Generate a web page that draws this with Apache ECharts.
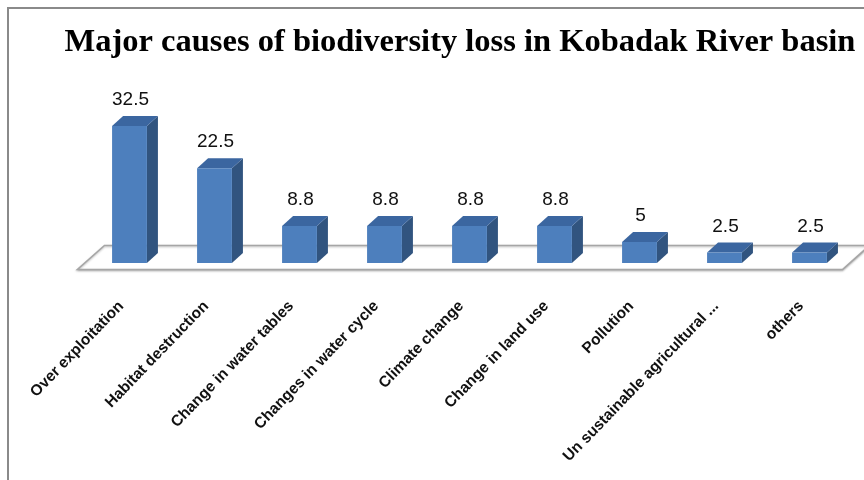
<!DOCTYPE html>
<html>
<head>
<meta charset="utf-8">
<script src="https://cdn.jsdelivr.net/npm/echarts@6/dist/echarts.min.js"></script>
<style>html,body{margin:0;padding:0;background:#fff;}#main{width:864px;height:480px;}</style>
</head>
<body>
<div id="main"></div>
<script>
const titleText = 'Major causes of biodiversity loss in Kobadak River basin';
const categories = ['Over exploitation', 'Habitat destruction', 'Change in water tables', 'Changes in water cycle', 'Climate change', 'Change in land use', 'Pollution', 'Un sustainable agricultural ...', 'others'];
const values = [32.5, 22.5, 8.8, 8.8, 8.8, 8.8, 5, 2.5, 2.5];
const valueLabels = ['32.5', '22.5', '8.8', '8.8', '8.8', '8.8', '5', '2.5', '2.5'];

const chart = echarts.init(document.getElementById('main'));
const DX = 11, DY = -10;

const option = {
  backgroundColor: '#fff',
  animation: false,
  title: {
    text: titleText,
    left: 455, top: 21, textAlign: 'center',
    textStyle: { fontFamily: 'Liberation Serif', fontWeight: 'bold', fontSize: 32.5, color: '#000' }
  },
  graphic: [{
    type: 'rect', shape: { x: 8, y: 8, width: 900, height: 520 },
    style: { fill: 'none', stroke: '#8a8a8a', lineWidth: 2 }, z: -1
  }],
  grid: { left: 87, right: 12, top: 94.4, bottom: 217 },
  xAxis: {
    type: 'category', data: categories,
    axisLine: { show: false }, axisTick: { show: false }, splitLine: { show: false },
    axisLabel: { interval: 0, rotate: 46, margin: 32, padding: [0, 12, 0, 0], fontFamily: 'Liberation Sans', fontWeight: 'bold', fontSize: 15.5, color: '#111' }
  },
  yAxis: { type: 'value', min: 0, max: 40, show: false, splitLine: { show: false } },
  series: [
    {
      type: 'custom', z: 1, silent: true,
      data: [[0, 0]],
      renderItem: function (params, api) {
        const band = api.size([1, 0])[0];
        const a = api.coord([0, 0]);
        const b = api.coord([categories.length - 1, 0]);
        const xl = a[0] - band / 2 - 9.5, xr = b[0] + band / 2 - 9.5;
        const yf = a[1] + 6.5, yk = a[1] - 17.5;
        return {
          type: 'polygon',
          shape: { points: [[xl, yf], [xr, yf], [xr + 27, yk], [xl + 27, yk]] },
          style: { fill: '#fff', stroke: '#a6a6a6', lineWidth: 1.6, shadowColor: 'rgba(0,0,0,0.25)', shadowBlur: 2, shadowOffsetY: 1 }
        };
      }
    },
    {
      type: 'custom', z: 2, silent: true,
      data: values.map((v, i) => [i, v]),
      renderItem: function (params, api) {
        const idx = api.value(0), v = api.value(1);
        const band = api.size([1, 0])[0];
        const w = band * 0.41;
        const base = api.coord([idx, 0]);
        const top = api.coord([idx, v]);
        const x0 = base[0] - w / 2, x1 = base[0] + w / 2;
        const yb = base[1], yt = top[1];
        return {
          type: 'group',
          children: [
            { type: 'polygon', shape: { points: [[x1, yt], [x1 + DX, yt + DY], [x1 + DX, yb + DY], [x1, yb]] }, style: { fill: '#31547f' } },
            { type: 'polygon', shape: { points: [[x0, yt], [x0 + DX, yt + DY], [x1 + DX, yt + DY], [x1, yt]] }, style: { fill: '#3b66a0' } },
            { type: 'rect', shape: { x: x0, y: yt, width: w, height: yb - yt }, style: { fill: '#4d7fbd' } },
            { type: 'text', x: base[0] + 1, y: yt - 26, style: { text: valueLabels[params.dataIndex], fontFamily: 'Liberation Sans', fontSize: 19, fill: '#111', align: 'center', verticalAlign: 'middle' } }
          ]
        };
      }
    }
  ]
};
chart.setOption(option);
</script>
</body>
</html>
